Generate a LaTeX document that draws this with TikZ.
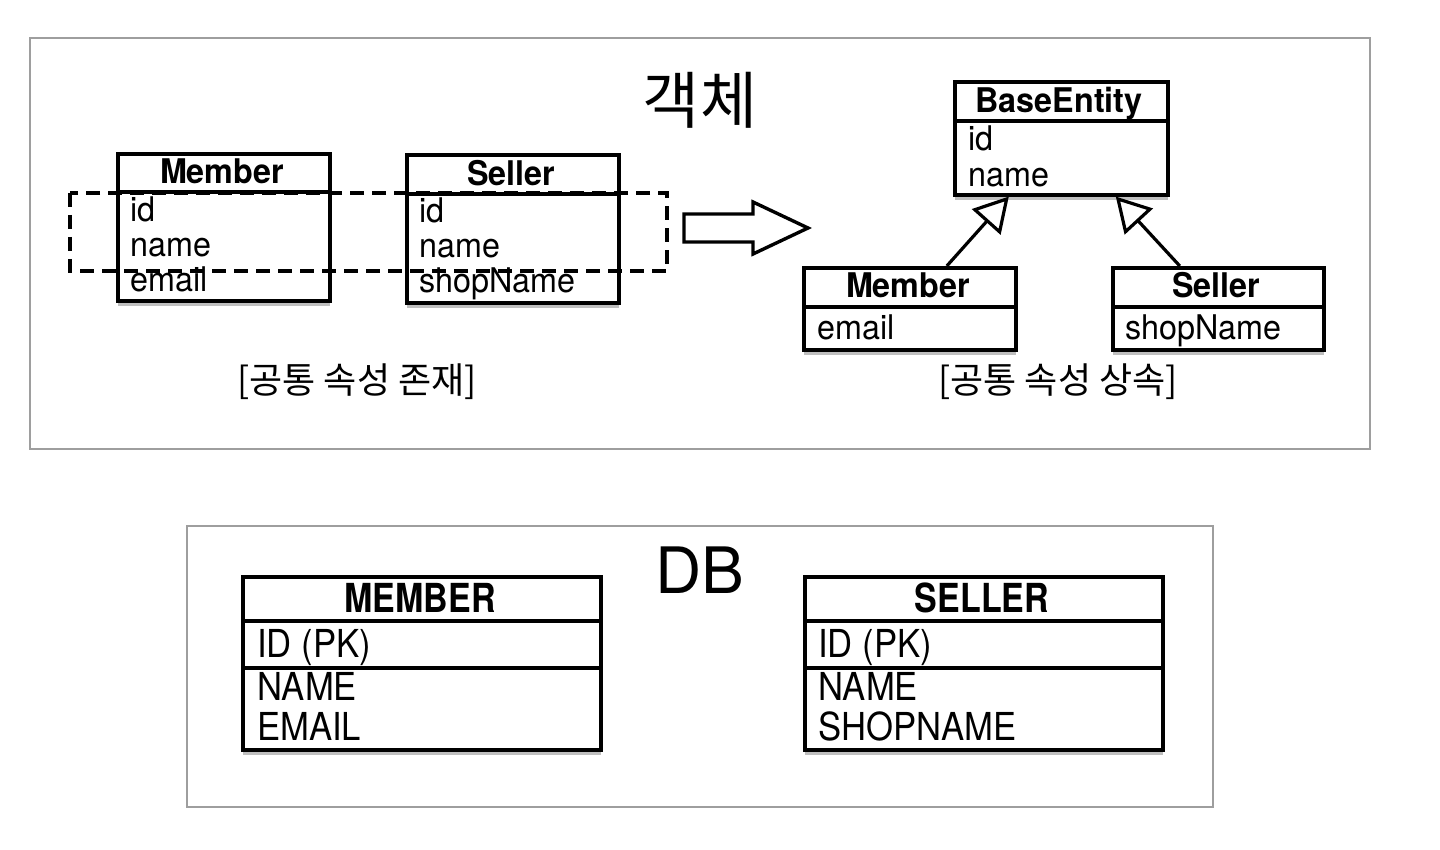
\documentclass[tikz,border=0pt]{standalone}
\usepackage{fontspec}
\setmainfont{TeX Gyre Heros}
\newfontfamily\umlfont[FakeStretch=0.95]{TeX Gyre Heros}
\newfontfamily\dbfont[FakeStretch=0.85]{TeX Gyre Heros}
\newfontfamily\dbtext[FakeStretch=0.9]{TeX Gyre Heros}
\newfontfamily\kr{Noto Sans CJK KR}
\usetikzlibrary{arrows.meta,shadows,calc}
\begin{document}
\begin{tikzpicture}[x=1pt,y=-1pt,
  frame/.style={draw=black!38, line width=1.8pt, fill=white},
  cls/.style={draw=black, line width=3.6pt, fill=white, inner sep=0pt, anchor=north west,
    drop shadow={shadow xshift=0pt, shadow yshift=-5pt, opacity=0.25, fill=black}},
  div/.style={line width=3.6pt},
  ttl/.style={font=\umlfont\bfseries\fontsize{34}{34}\selectfont, anchor=base, inner sep=0pt},
  attr/.style={font=\umlfont\fontsize{34}{34}\selectfont, anchor=base west, inner sep=0pt},
  dbttl/.style={font=\dbfont\bfseries\fontsize{40}{40}\selectfont, anchor=base, inner sep=0pt},
  dbattr/.style={font=\dbtext\fontsize{38.5}{38.5}\selectfont, anchor=base west, inner sep=0pt},
  krbig/.style={font=\kr\fontsize{62}{62}\selectfont, anchor=base, inner sep=0pt},
  krcap/.style={font=\kr\fontsize{36}{36}\selectfont, anchor=base, inner sep=0pt},
  inh/.style={line width=3.2pt, -{Triangle[length=34pt, width=38pt, fill=white, line width=3.2pt]}},
  bigarrow/.style={line width=3.4pt, line join=miter, fill=white},
  group/.style={line width=3.2pt, dash pattern=on 14pt off 8pt}
]
\useasboundingbox (0,0) rectangle (1440,850);
\fill[white] (0,0) rectangle (1440,850);

% frames
\draw[frame] (30,38) rectangle (1370,449);
\draw[frame] (187,526) rectangle (1213,807);

% titles
\node[krbig] (tobj) at (700,124) {객체};
\node[font=\fontsize{64}{64}\selectfont, anchor=base, inner sep=0pt] (tdb) at (700,593) {DB};

% ---------- left: Member ----------
\node[cls, minimum width=212pt, minimum height=147pt] (m1) at (116,152) {};
\draw[div] (116,192) -- (328,192);
\node[ttl] (m1t) at (222,184) {Member};
\node[attr] (m1a) at (130,222) {id};
\node[attr] (m1b) at (130,257) {name};
\node[attr] (m1c) at (130,292) {email};

% ---------- left: Seller ----------
\node[cls, minimum width=212pt, minimum height=148pt] (s1) at (405,153) {};
\draw[div] (405,194) -- (617,194);
\node[ttl] (s1t) at (511,186) {Seller};
\node[attr] (s1a) at (419,223) {id};
\node[attr] (s1b) at (419,258) {name};
\node[attr] (s1c) at (419,293) {shopName};

% dashed grouping
\draw[group] (70,193) rectangle (667,271);

% hollow arrow
\draw[bigarrow] (684,214) -- (753,214) -- (753,202) -- (808,228) -- (753,254) -- (753,242) -- (684,242) -- cycle;

% ---------- right: BaseEntity ----------
\node[cls, minimum width=213pt, minimum height=113pt] (be) at (953,80) {};
\draw[div] (953,121) -- (1166,121);
\node[ttl] (bet) at (1059,113) {BaseEntity};
\node[attr] (bea) at (968,151) {id};
\node[attr] (beb) at (968,187) {name};

% ---------- right: Member ----------
\node[cls, minimum width=212pt, minimum height=82pt] (mr) at (802,266) {};
\draw[div] (802,307) -- (1014,307);
\node[ttl] (mrt) at (908,298) {Member};
\node[attr] (mra) at (817,339) {email};

% ---------- right: Seller ----------
\node[cls, minimum width=211pt, minimum height=82pt] (sr) at (1111,266) {};
\draw[div] (1111,307) -- (1322,307);
\node[ttl] (srt) at (1216,298) {Seller};
\node[attr] (sra) at (1125,339) {shopName};

% inheritance
\draw[inh] ($(mr.north)+(37,0)$) -- ($(be.south)+(-52.5,0)$);
\draw[inh] ($(sr.north)+(-38.5,0)$) -- ($(be.south)+(54.5,0)$);

% captions
\node[krcap] (cap1) at (357,393) {[공통 속성 존재]};
\node[krcap] (cap2) at (1058,393) {[공통 속성 상속]};

% ---------- DB: MEMBER ----------
\node[cls, minimum width=358pt, minimum height=173pt] (tm) at (241,575) {};
\draw[div] (241,621) -- (599,621);
\draw[div] (241,668) -- (599,668);
\node[dbttl] (tmt) at (420,612) {MEMBER};
\node[dbattr] (tma) at (257,657) {ID (PK)};
\node[dbattr] (tmb) at (257,700) {NAME};
\node[dbattr] (tmc) at (257,740) {EMAIL};

% ---------- DB: SELLER ----------
\node[cls, minimum width=358pt, minimum height=173pt] (ts) at (803,575) {};
\draw[div] (803,621) -- (1161,621);
\draw[div] (803,668) -- (1161,668);
\node[dbttl] (tst) at (982,612) {SELLER};
\node[dbattr] (tsa) at (818,657) {ID (PK)};
\node[dbattr] (tsb) at (818,700) {NAME};
\node[dbattr] (tsc) at (818,740) {SHOPNAME};
\end{tikzpicture}
\end{document}
